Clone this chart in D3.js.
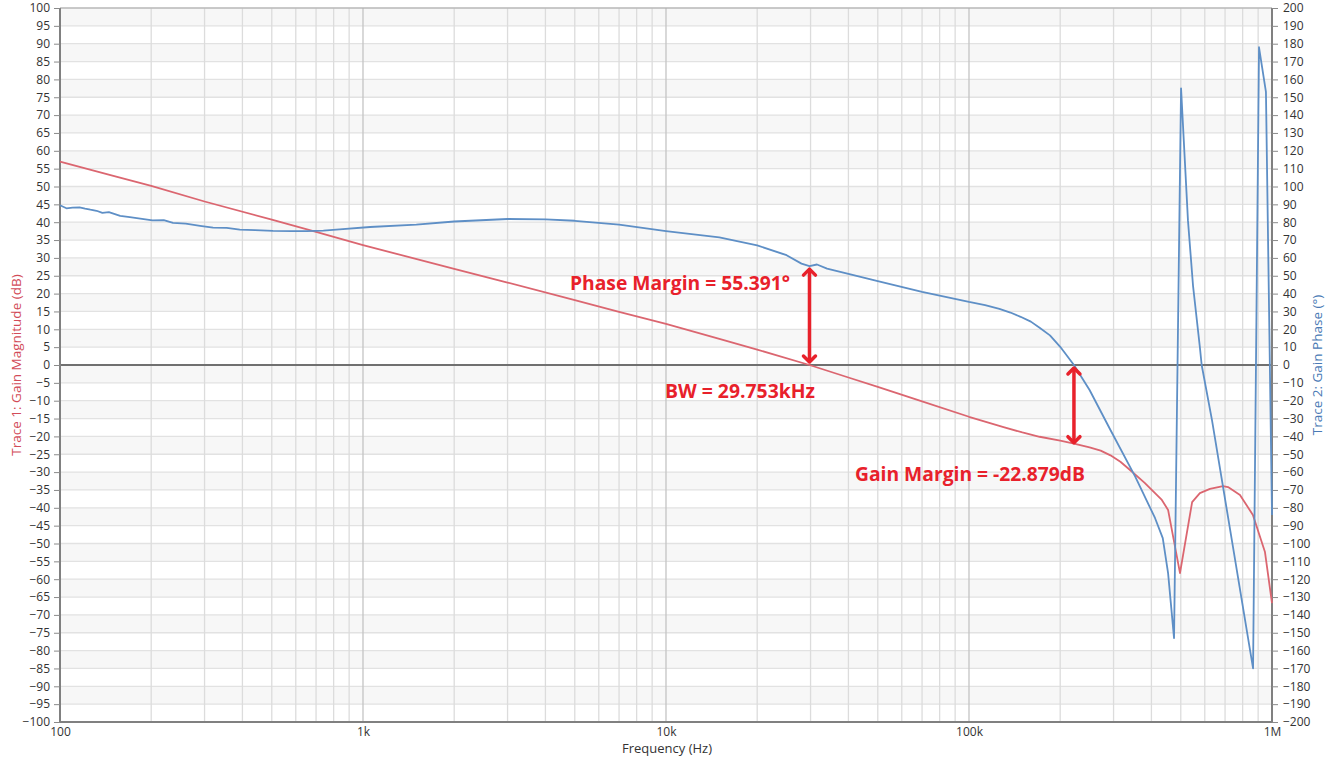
<!DOCTYPE html>
<html>
<head>
<meta charset="utf-8">
<script src="https://cdn.jsdelivr.net/npm/d3@7"></script>
<style>
  html, body { margin: 0; padding: 0; background: #fff; }
  svg { display: block; font-family: "Open Sans", "Noto Sans", sans-serif; }
</style>
</head>
<body>
<svg id="chart" width="1339" height="763"></svg>
<script>
// ---------- DATA ----------
const gainFreq = [100, 150, 200, 300, 500, 700, 1000, 2000, 3000, 5000, 7000, 10000, 15000, 20000, 29753, 40000, 50000, 70000, 100000, 130000, 150000, 171000, 200000, 222000, 250000, 272000, 293000, 316000, 340000, 380000, 433000, 454000, 497000, 545000, 578000, 624000, 689000, 716000, 784000, 865000, 948000, 1000000];
const gainDb = [57, 53, 50.2, 45.8, 40.7, 37.3, 33.6, 26.9, 23.1, 18.2, 14.9, 11.5, 7.3, 4.3, 0, -3.5, -6.1, -10.2, -14.5, -17.4, -18.9, -20.1, -21.2, -22, -23.1, -24, -25.3, -27.1, -29.4, -33, -37.8, -40.6, -58.3, -38.4, -35.9, -34.7, -33.9, -34.2, -36.4, -42, -52.4, -66.7];

const phaseFreq = [100, 105, 110, 116, 121, 126, 132, 138, 145, 158, 170, 184, 202, 220, 236, 260, 290, 320, 355, 392, 440, 505, 580, 653, 740, 837, 1055, 1500, 2000, 3000, 4000, 5000, 7000, 10000, 15000, 20000, 25000, 28000, 29753, 31500, 34000, 40000, 50000, 70000, 100000, 113000, 126000, 137000, 148000, 160000, 171000, 185000, 200000, 222000, 250000, 293000, 354000, 411000, 436000, 454000, 475000, 501000, 528000, 549000, 578000, 586000, 634000, 866000, 906000, 955000, 1000000];
const phaseDeg = [89.5, 87.8, 88.2, 88.3, 87.6, 87, 86.4, 85.2, 85.6, 83.5, 82.8, 82, 81, 81.2, 79.6, 79.2, 78, 77, 76.8, 75.8, 75.6, 75.1, 75, 75, 75.3, 76, 77.3, 78.6, 80.4, 81.8, 81.6, 80.8, 78.6, 75, 71.5, 67, 61.5, 56.8, 55.4, 56.3, 54, 51, 47, 41, 35.3, 33.6, 31.4, 29.4, 27, 24.3, 20.9, 16.6, 10.2, 0, -14, -36.4, -62.7, -85.7, -97, -116.6, -153, 155, 81, 44, 10, 0, -31, -170, 178, 153, -84];

const leftTicks = d3.range(-100, 101, 5);
const rightTicks = d3.range(-200, 201, 10);
const xTickValues = [100, 1000, 10000, 100000, 1000000];
const xTickLabels = ["100", "1k", "10k", "100k", "1M"];

// ---------- LAYOUT ----------
const L = 60, R = 1272, T = 8, B = 722;
const svg = d3.select("#chart");

const x = d3.scaleLog().domain([100, 1e6]).range([L, R]);
const yL = d3.scaleLinear().domain([-100, 100]).range([B, T]);
const yR = d3.scaleLinear().domain([-200, 200]).range([B, T]);

// alternating bands
const bands = d3.range(100, -100, -5);
svg.append("g").selectAll("rect").data(bands).join("rect")
  .attr("x", L).attr("width", R - L)
  .attr("y", d => yL(d)).attr("height", d => yL(d - 5) - yL(d))
  .attr("fill", (d, i) => i % 2 === 0 ? "#f7f7f7" : "#ffffff");

// horizontal grid
svg.append("g").selectAll("line").data(leftTicks).join("line")
  .attr("x1", L).attr("x2", R)
  .attr("y1", d => yL(d)).attr("y2", d => yL(d))
  .attr("stroke", "#e2e2e2").attr("stroke-width", 1.3);

// vertical grid
const minorX = [];
for (let dec = 100; dec < 1e6; dec *= 10) {
  for (let k = 2; k <= 9; k++) minorX.push(dec * k);
}
svg.append("g").selectAll("line").data(minorX).join("line")
  .attr("x1", d => x(d)).attr("x2", d => x(d))
  .attr("y1", T).attr("y2", B)
  .attr("stroke", "#dcdcdc").attr("stroke-width", 1.3);
svg.append("g").selectAll("line").data(xTickValues.slice(1, -1)).join("line")
  .attr("x1", d => x(d)).attr("x2", d => x(d))
  .attr("y1", T).attr("y2", B)
  .attr("stroke", "#c4c4c4").attr("stroke-width", 1.3);

// zero line
svg.append("line").attr("x1", L).attr("x2", R)
  .attr("y1", yL(0)).attr("y2", yL(0))
  .attr("stroke", "#707070").attr("stroke-width", 2);

// frame top
svg.append("line").attr("x1", L).attr("x2", R).attr("y1", T).attr("y2", T)
  .attr("stroke", "#a8a8a8").attr("stroke-width", 1);

// axes
const leftAxis = d3.axisLeft(yL).tickValues(leftTicks).tickSize(6).tickPadding(4).tickFormat(d3.format("d"));
const gL = svg.append("g").attr("transform", `translate(${L},0)`).call(leftAxis);
const rightAxis = d3.axisRight(yR).tickValues(rightTicks).tickSize(6).tickPadding(5).tickFormat(d3.format("d"));
const gR = svg.append("g").attr("transform", `translate(${R},0)`).call(rightAxis);
const bottomAxis = d3.axisBottom(x).tickValues(xTickValues).tickSize(0).tickPadding(5)
  .tickFormat((d, i) => xTickLabels[i]);
const gB = svg.append("g").attr("transform", `translate(0,${B})`).call(bottomAxis);

[gL, gR, gB].forEach(g => {
  g.select(".domain").attr("stroke", "#808080").attr("stroke-width", 2);
  g.selectAll(".tick line").attr("stroke", "#8a8a8a");
  g.selectAll("text").attr("font-size", 12).attr("fill", "#333")
    .attr("font-family", "'Open Sans', 'Noto Sans', sans-serif");
});
gL.select(".domain").attr("d", `M0,${T}V${B}`);
gR.select(".domain").attr("d", `M0,${T}V${B}`);
gB.select(".domain").attr("d", `M${L},0H${R}`);

// traces
const gainData = gainFreq.map((f, i) => [f, gainDb[i]]);
const phaseData = phaseFreq.map((f, i) => [f, phaseDeg[i]]);

svg.append("path").datum(gainData)
  .attr("fill", "none").attr("stroke", "#db6670").attr("stroke-width", 1.8)
  .attr("stroke-linejoin", "round")
  .attr("d", d3.line().x(d => x(d[0])).y(d => yL(d[1])));

svg.append("path").datum(phaseData)
  .attr("fill", "none").attr("stroke", "#5e8fc6").attr("stroke-width", 1.8)
  .attr("stroke-linejoin", "round")
  .attr("d", d3.line().x(d => x(d[0])).y(d => yR(d[1])));

// axis titles
svg.append("text").attr("transform", `translate(17,${(T + B) / 2}) rotate(-90)`)
  .attr("text-anchor", "middle").attr("dominant-baseline", "middle")
  .attr("font-size", 13.5).attr("fill", "#d24c58")
  .text("Trace 1: Gain Magnitude (dB)");
svg.append("text").attr("transform", `translate(1318,${(T + B) / 2}) rotate(-90)`)
  .attr("text-anchor", "middle").attr("dominant-baseline", "middle")
  .attr("font-size", 13.5).attr("fill", "#4a7ab5")
  .text("Trace 2: Gain Phase (°)");
svg.append("text").attr("x", (L + R) / 2 + 1).attr("y", 753)
  .attr("text-anchor", "middle").attr("font-size", 13).attr("fill", "#333")
  .text("Frequency (Hz)");

// annotations
const annRed = "#e8212b";
function vArrow(xp, y1, y2) {
  const g = svg.append("g").attr("stroke", annRed).attr("fill", "none")
    .attr("stroke-width", 3.5).attr("stroke-linecap", "round").attr("stroke-linejoin", "round");
  g.append("line").attr("x1", xp).attr("x2", xp).attr("y1", y1 + 2).attr("y2", y2 - 2);
  g.append("path").attr("d", `M${xp - 6},${y1 + 7}L${xp},${y1 + 1}L${xp + 6},${y1 + 7}`);
  g.append("path").attr("d", `M${xp - 6},${y2 - 7}L${xp},${y2 - 1}L${xp + 6},${y2 - 7}`);
}
vArrow(x(29753), yR(55.391) + 2, yL(0) - 2);
vArrow(x(222000), yL(0) + 2, yL(-22.879) - 3);

function ann(txt, x0, yb, w) {
  svg.append("text").attr("x", x0).attr("y", yb)
    .attr("font-size", 20).attr("font-weight", "bold").attr("fill", annRed)
    .attr("textLength", w).attr("lengthAdjust", "spacingAndGlyphs")
    .text(txt);
}
ann("Phase Margin = 55.391°", 570, 290, 220);
ann("BW = 29.753kHz", 665, 398, 150);
ann("Gain Margin = -22.879dB", 855, 481, 230);
</script>
</body>
</html>
